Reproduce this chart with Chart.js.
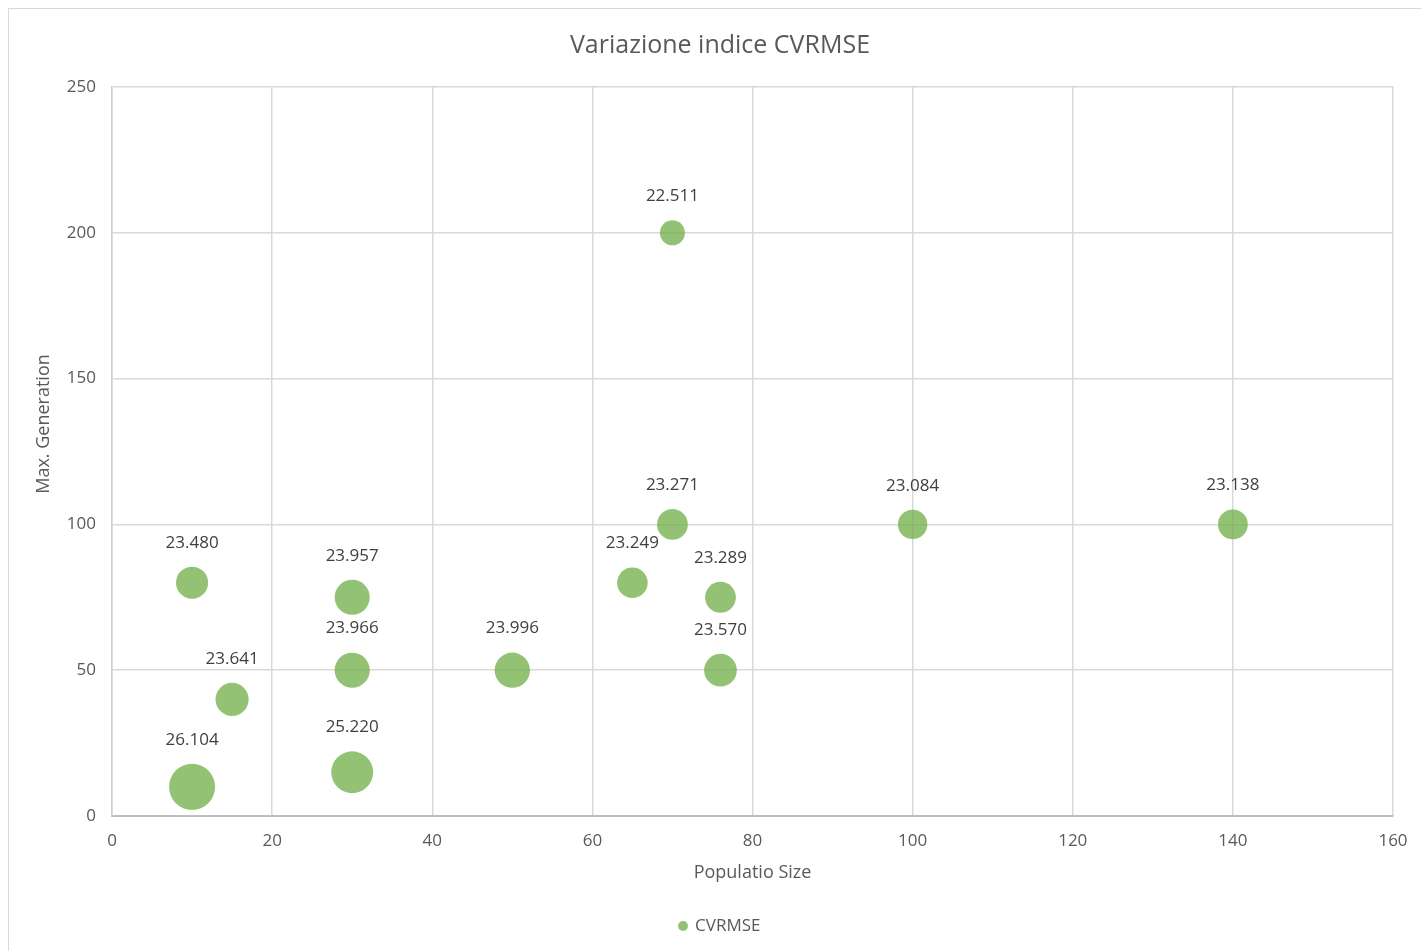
<!DOCTYPE html>
<html>
<head>
<meta charset="utf-8">
<title>Variazione indice CVRMSE</title>
<script src="https://cdn.jsdelivr.net/npm/chart.js@4.4.1/dist/chart.umd.min.js"></script>
<style>
  html, body { margin: 0; padding: 0; background: #ffffff; overflow: hidden; }
  #wrap { position: absolute; left: 0; top: 0; width: 1421px; height: 951px; }
  #frame {
    position: absolute; left: 8px; top: 8px; width: 1430px; height: 960px;
    border: 1.5px solid #d9d9d9; box-sizing: border-box; pointer-events: none;
  }
</style>
</head>
<body>
<div id="wrap"><canvas id="chart" width="1421" height="951"></canvas></div>
<div id="frame"></div>
<script>
// Population size (x), max generation (y) and resulting CVRMSE for each run
const populationSize = [10, 15, 10, 30, 30, 30, 50, 65, 70, 70, 76, 76, 100, 140];
const maxGeneration  = [80, 40, 10, 75, 50, 15, 50, 80, 100, 200, 75, 50, 100, 100];
const cvrmse         = [23.480, 23.641, 26.104, 23.957, 23.966, 25.220, 23.996,
                        23.249, 23.271, 22.511, 23.289, 23.570, 23.084, 23.138];

// Axis ranges and tick steps
const xAxisRange = [0, 160];
const xAxisStep = 20;
const yAxisRange = [0, 250];
const yAxisStep = 50;

// Bubble area grows with the CVRMSE value
function bubbleRadius(v) {
  return Math.sqrt(104 * (v - 21.0));
}

const points = populationSize.map((x, i) => ({
  x: x,
  y: maxGeneration[i],
  r: bubbleRadius(cvrmse[i]),
  v: cvrmse[i]
}));

const TEXT = '#595959';
const GRID = '#d9d9d9';
const FONT = '"Open Sans", "Noto Sans", sans-serif';

Chart.defaults.font.family = FONT;
Chart.defaults.color = TEXT;

// Value labels above every bubble
const valueLabels = {
  id: 'valueLabels',
  afterDatasetsDraw(chart) {
    const ctx = chart.ctx;
    const meta = chart.getDatasetMeta(0);
    ctx.save();
    ctx.font = '17px ' + FONT;
    ctx.fillStyle = '#404040';
    ctx.textAlign = 'center';
    ctx.textBaseline = 'middle';
    meta.data.forEach((el, i) => {
      const r = el.options.radius;
      ctx.fillText(cvrmse[i].toFixed(3), el.x, el.y - r - 24);
    });
    ctx.restore();
  }
};

// Vertical axis title
const yTitle = {
  id: 'yTitle',
  afterDraw(chart) {
    const ctx = chart.ctx;
    ctx.save();
    ctx.translate(44, 424);
    ctx.rotate(-Math.PI / 2);
    ctx.font = '18px ' + FONT;
    ctx.fillStyle = TEXT;
    ctx.textAlign = 'center';
    ctx.textBaseline = 'middle';
    ctx.fillText('Max. Generation', 0, 0);
    ctx.restore();
  }
};

new Chart(document.getElementById('chart'), {
  type: 'bubble',
  data: {
    datasets: [{
      label: 'CVRMSE',
      data: points,
      backgroundColor: 'rgba(112, 173, 71, 0.75)',
      borderColor: 'rgba(112, 173, 71, 0)',
      borderWidth: 0,
      hoverRadius: 0
    }]
  },
  options: {
    responsive: false,
    animation: false,
    devicePixelRatio: 1,
    layout: { padding: { left: 47, right: 28, top: 0, bottom: 6.5 } },
    plugins: {
      title: {
        display: true,
        text: 'Variazione indice CVRMSE',
        color: TEXT,
        font: { size: 25, weight: 'normal', lineHeight: 1.2 },
        padding: { top: 31, bottom: 26 }
      },
      legend: {
        display: true,
        position: 'bottom',
        labels: {
          usePointStyle: true,
          pointStyle: 'circle',
          boxWidth: 7,
          boxHeight: 7,
          padding: 32.5,
          color: TEXT,
          font: { size: 17 }
        }
      },
      tooltip: { enabled: false }
    },
    scales: {
      x: {
        type: 'linear',
        min: xAxisRange[0],
        max: xAxisRange[1],
        ticks: { stepSize: xAxisStep, padding: 15, color: TEXT, font: { size: 17 } },
        grid: { color: GRID, lineWidth: 1.5, drawTicks: false },
        border: { color: '#bfbfbf', width: 2 },
        title: {
          display: true,
          text: 'Populatio Size',
          color: TEXT,
          font: { size: 18, lineHeight: 1.2 },
          padding: { top: 1, bottom: 1 }
        },
        afterFit(scale) {
          scale.height = 69;
          scale.paddingLeft = 0;
          scale.paddingRight = 0;
        }
      },
      y: {
        type: 'linear',
        min: yAxisRange[0],
        max: yAxisRange[1],
        ticks: { stepSize: yAxisStep, padding: 16, color: TEXT, font: { size: 17 } },
        grid: { color: GRID, lineWidth: 1.5, drawTicks: false },
        border: { color: '#cfcfcf', width: 1.5 },
        title: { display: false },
        afterFit(scale) { scale.width = 65; }
      }
    }
  },
  plugins: [valueLabels, yTitle]
});
</script>
</body>
</html>
